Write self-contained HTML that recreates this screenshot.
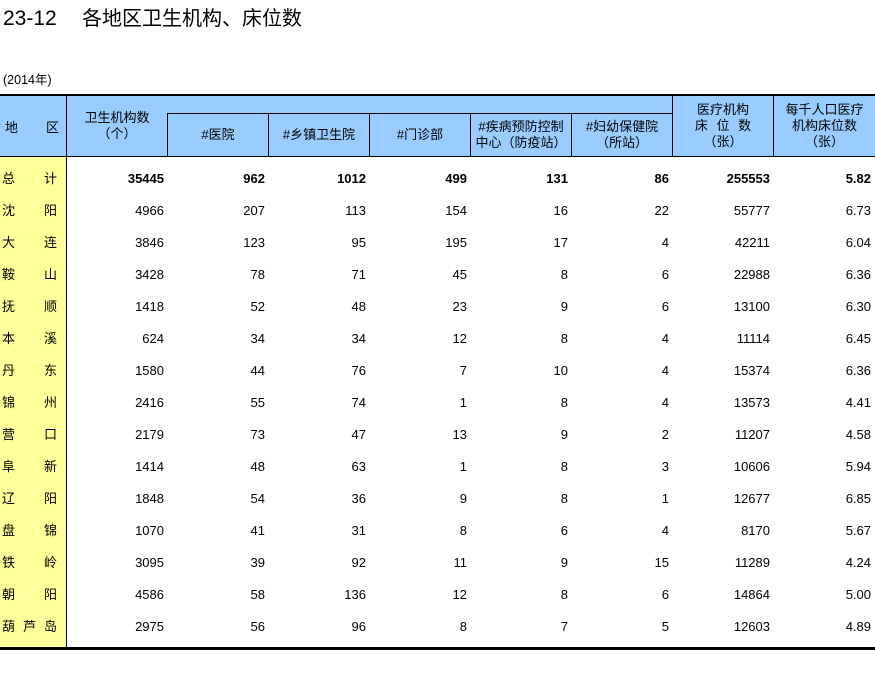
<!DOCTYPE html>
<html><head><meta charset="utf-8">
<style>
*{margin:0;padding:0;box-sizing:border-box}
body{width:875px;height:682px;background:#fff;position:relative;overflow:hidden;font-family:"Liberation Sans","Noto Sans CJK SC",sans-serif;color:#000}
.a{position:absolute}
.title{font-size:20px;line-height:22px;top:8px}
.hd{font-size:13px;line-height:16px;text-align:center;display:flex;flex-direction:column;justify-content:center}
.r{position:absolute;left:0;width:875px;height:32px;line-height:32px;font-size:13px}
.r .c{position:absolute;top:0;text-align:right;height:32px}
.r.b .c{font-weight:bold}
.lab{position:absolute;left:2px;width:55px;top:0;height:32px;display:flex;justify-content:space-between}
.vl{position:absolute;width:1px;background:#000}
</style></head><body>
<div class="a title" style="left:3px;font-size:21px">23-12</div>
<div class="a title" style="left:82px">各地区卫生机构、床位数</div>
<div class="a" style="left:3px;top:72px;font-size:12.5px;line-height:16px">(2014年)</div>

<div class="a" style="left:0;top:96px;width:875px;height:60px;background:#99CCFF"></div>
<div class="a" style="left:0;top:94px;width:875px;height:2px;background:#000"></div>
<div class="a" style="left:0;top:156px;width:875px;height:1px;background:#000"></div>
<div class="a" style="left:0;top:157px;width:66px;height:490px;background:#FFFF99"></div>
<div class="a" style="left:0;top:647px;width:875px;height:3px;background:#000"></div>
<div class="a" style="left:167px;top:113px;width:505px;height:1px;background:#000"></div>
<div class="vl" style="left:66px;top:95px;height:553px"></div>
<div class="vl" style="left:167px;top:113px;height:44px"></div>
<div class="vl" style="left:268px;top:113px;height:44px"></div>
<div class="vl" style="left:369px;top:113px;height:44px"></div>
<div class="vl" style="left:470px;top:113px;height:44px"></div>
<div class="vl" style="left:571px;top:113px;height:44px"></div>
<div class="vl" style="left:672px;top:95px;height:62px"></div>
<div class="vl" style="left:773px;top:95px;height:62px"></div>

<div class="a" style="left:5px;top:96px;width:54px;height:60px;display:flex;justify-content:space-between;align-items:center;font-size:13px"><span>地</span><span>区</span></div>
<div class="a hd" style="left:67px;top:96px;width:100px;height:60px"><div>卫生机构数</div><div>（个）</div></div>
<div class="a hd" style="left:168px;top:114px;width:100px;height:42px"><div>#医院</div></div>
<div class="a hd" style="left:269px;top:114px;width:100px;height:42px"><div>#乡镇卫生院</div></div>
<div class="a hd" style="left:370px;top:114px;width:100px;height:42px"><div>#门诊部</div></div>
<div class="a hd" style="left:471px;top:114px;width:100px;height:42px"><div>#疾病预防控制</div><div>中心（防疫站）</div></div>
<div class="a hd" style="left:572px;top:114px;width:100px;height:42px"><div>#妇幼保健院</div><div>（所站）</div></div>
<div class="a hd" style="left:673px;top:96px;width:100px;height:60px"><div>医疗机构</div><div style="word-spacing:5px">床 位 数</div><div>（张）</div></div>
<div class="a hd" style="left:774px;top:96px;width:101px;height:60px"><div>每千人口医疗</div><div>机构床位数</div><div>（张）</div></div>

<div id="rows"></div>
<div class="r b" style="top:163px"><div class="lab" style="font-weight:normal"><span>总</span><span>计</span></div><div class="c" style="left:67px;width:97px">35445</div><div class="c" style="left:168px;width:97px">962</div><div class="c" style="left:269px;width:97px">1012</div><div class="c" style="left:370px;width:97px">499</div><div class="c" style="left:471px;width:97px">131</div><div class="c" style="left:572px;width:97px">86</div><div class="c" style="left:673px;width:97px">255553</div><div class="c" style="left:774px;width:97px">5.82</div></div>
<div class="r" style="top:195px"><div class="lab"><span>沈</span><span>阳</span></div><div class="c" style="left:67px;width:97px">4966</div><div class="c" style="left:168px;width:97px">207</div><div class="c" style="left:269px;width:97px">113</div><div class="c" style="left:370px;width:97px">154</div><div class="c" style="left:471px;width:97px">16</div><div class="c" style="left:572px;width:97px">22</div><div class="c" style="left:673px;width:97px">55777</div><div class="c" style="left:774px;width:97px">6.73</div></div>
<div class="r" style="top:227px"><div class="lab"><span>大</span><span>连</span></div><div class="c" style="left:67px;width:97px">3846</div><div class="c" style="left:168px;width:97px">123</div><div class="c" style="left:269px;width:97px">95</div><div class="c" style="left:370px;width:97px">195</div><div class="c" style="left:471px;width:97px">17</div><div class="c" style="left:572px;width:97px">4</div><div class="c" style="left:673px;width:97px">42211</div><div class="c" style="left:774px;width:97px">6.04</div></div>
<div class="r" style="top:259px"><div class="lab"><span>鞍</span><span>山</span></div><div class="c" style="left:67px;width:97px">3428</div><div class="c" style="left:168px;width:97px">78</div><div class="c" style="left:269px;width:97px">71</div><div class="c" style="left:370px;width:97px">45</div><div class="c" style="left:471px;width:97px">8</div><div class="c" style="left:572px;width:97px">6</div><div class="c" style="left:673px;width:97px">22988</div><div class="c" style="left:774px;width:97px">6.36</div></div>
<div class="r" style="top:291px"><div class="lab"><span>抚</span><span>顺</span></div><div class="c" style="left:67px;width:97px">1418</div><div class="c" style="left:168px;width:97px">52</div><div class="c" style="left:269px;width:97px">48</div><div class="c" style="left:370px;width:97px">23</div><div class="c" style="left:471px;width:97px">9</div><div class="c" style="left:572px;width:97px">6</div><div class="c" style="left:673px;width:97px">13100</div><div class="c" style="left:774px;width:97px">6.30</div></div>
<div class="r" style="top:323px"><div class="lab"><span>本</span><span>溪</span></div><div class="c" style="left:67px;width:97px">624</div><div class="c" style="left:168px;width:97px">34</div><div class="c" style="left:269px;width:97px">34</div><div class="c" style="left:370px;width:97px">12</div><div class="c" style="left:471px;width:97px">8</div><div class="c" style="left:572px;width:97px">4</div><div class="c" style="left:673px;width:97px">11114</div><div class="c" style="left:774px;width:97px">6.45</div></div>
<div class="r" style="top:355px"><div class="lab"><span>丹</span><span>东</span></div><div class="c" style="left:67px;width:97px">1580</div><div class="c" style="left:168px;width:97px">44</div><div class="c" style="left:269px;width:97px">76</div><div class="c" style="left:370px;width:97px">7</div><div class="c" style="left:471px;width:97px">10</div><div class="c" style="left:572px;width:97px">4</div><div class="c" style="left:673px;width:97px">15374</div><div class="c" style="left:774px;width:97px">6.36</div></div>
<div class="r" style="top:387px"><div class="lab"><span>锦</span><span>州</span></div><div class="c" style="left:67px;width:97px">2416</div><div class="c" style="left:168px;width:97px">55</div><div class="c" style="left:269px;width:97px">74</div><div class="c" style="left:370px;width:97px">1</div><div class="c" style="left:471px;width:97px">8</div><div class="c" style="left:572px;width:97px">4</div><div class="c" style="left:673px;width:97px">13573</div><div class="c" style="left:774px;width:97px">4.41</div></div>
<div class="r" style="top:419px"><div class="lab"><span>营</span><span>口</span></div><div class="c" style="left:67px;width:97px">2179</div><div class="c" style="left:168px;width:97px">73</div><div class="c" style="left:269px;width:97px">47</div><div class="c" style="left:370px;width:97px">13</div><div class="c" style="left:471px;width:97px">9</div><div class="c" style="left:572px;width:97px">2</div><div class="c" style="left:673px;width:97px">11207</div><div class="c" style="left:774px;width:97px">4.58</div></div>
<div class="r" style="top:451px"><div class="lab"><span>阜</span><span>新</span></div><div class="c" style="left:67px;width:97px">1414</div><div class="c" style="left:168px;width:97px">48</div><div class="c" style="left:269px;width:97px">63</div><div class="c" style="left:370px;width:97px">1</div><div class="c" style="left:471px;width:97px">8</div><div class="c" style="left:572px;width:97px">3</div><div class="c" style="left:673px;width:97px">10606</div><div class="c" style="left:774px;width:97px">5.94</div></div>
<div class="r" style="top:483px"><div class="lab"><span>辽</span><span>阳</span></div><div class="c" style="left:67px;width:97px">1848</div><div class="c" style="left:168px;width:97px">54</div><div class="c" style="left:269px;width:97px">36</div><div class="c" style="left:370px;width:97px">9</div><div class="c" style="left:471px;width:97px">8</div><div class="c" style="left:572px;width:97px">1</div><div class="c" style="left:673px;width:97px">12677</div><div class="c" style="left:774px;width:97px">6.85</div></div>
<div class="r" style="top:515px"><div class="lab"><span>盘</span><span>锦</span></div><div class="c" style="left:67px;width:97px">1070</div><div class="c" style="left:168px;width:97px">41</div><div class="c" style="left:269px;width:97px">31</div><div class="c" style="left:370px;width:97px">8</div><div class="c" style="left:471px;width:97px">6</div><div class="c" style="left:572px;width:97px">4</div><div class="c" style="left:673px;width:97px">8170</div><div class="c" style="left:774px;width:97px">5.67</div></div>
<div class="r" style="top:547px"><div class="lab"><span>铁</span><span>岭</span></div><div class="c" style="left:67px;width:97px">3095</div><div class="c" style="left:168px;width:97px">39</div><div class="c" style="left:269px;width:97px">92</div><div class="c" style="left:370px;width:97px">11</div><div class="c" style="left:471px;width:97px">9</div><div class="c" style="left:572px;width:97px">15</div><div class="c" style="left:673px;width:97px">11289</div><div class="c" style="left:774px;width:97px">4.24</div></div>
<div class="r" style="top:579px"><div class="lab"><span>朝</span><span>阳</span></div><div class="c" style="left:67px;width:97px">4586</div><div class="c" style="left:168px;width:97px">58</div><div class="c" style="left:269px;width:97px">136</div><div class="c" style="left:370px;width:97px">12</div><div class="c" style="left:471px;width:97px">8</div><div class="c" style="left:572px;width:97px">6</div><div class="c" style="left:673px;width:97px">14864</div><div class="c" style="left:774px;width:97px">5.00</div></div>
<div class="r" style="top:611px"><div class="lab"><span>葫</span><span>芦</span><span>岛</span></div><div class="c" style="left:67px;width:97px">2975</div><div class="c" style="left:168px;width:97px">56</div><div class="c" style="left:269px;width:97px">96</div><div class="c" style="left:370px;width:97px">8</div><div class="c" style="left:471px;width:97px">7</div><div class="c" style="left:572px;width:97px">5</div><div class="c" style="left:673px;width:97px">12603</div><div class="c" style="left:774px;width:97px">4.89</div></div>
</body></html>
